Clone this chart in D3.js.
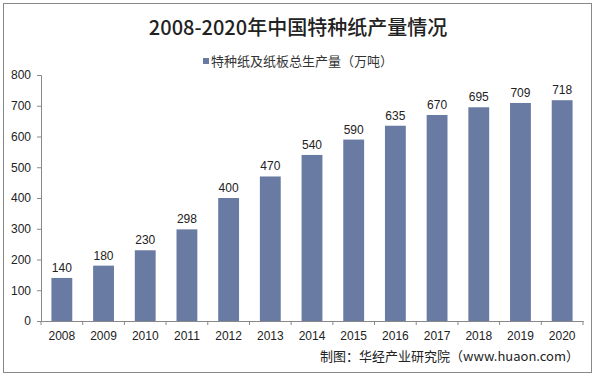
<!DOCTYPE html>
<html>
<head>
<meta charset="utf-8">
<script src="https://cdn.jsdelivr.net/npm/d3@7"></script>
<style>
  body { margin: 0; background: #fff; }
  text { font-family: "Liberation Sans", Arial, sans-serif; }
</style>
</head>
<body>
<svg id="svg" width="596" height="377"></svg>
<script>
const years = ['2008', '2009', '2010', '2011', '2012', '2013', '2014', '2015', '2016', '2017', '2018', '2019', '2020']
const output = [140, 180, 230, 298, 400, 470, 540, 590, 635, 670, 695, 709, 718]
const yTicks = [0, 100, 200, 300, 400, 500, 600, 700, 800]

const svg = d3.select('#svg')

svg.append('rect')
  .attr('x', 3.5).attr('y', 3.5)
  .attr('width', 588).attr('height', 369)
  .attr('fill', '#fff')
  .attr('stroke', '#888')

const xScale = d3.scaleBand()
  .domain(years)
  .range([41, 583])
  .paddingInner(0.5)
  .paddingOuter(0.25)

const yScale = d3.scaleLinear()
  .domain([0, 800])
  .range([321, 75])

const barColor = '#6a7ba3'

// title
svg.append('text')
  .attr('x', 298).attr('y', 35)
  .attr('text-anchor', 'middle')
  .style('font-family', '"Noto Sans CJK SC", sans-serif')
  .style('font-size', '20px')
  .style('font-weight', 500)
  .attr('fill', '#222')
  .text('2008-2020年中国特种纸产量情况')

// legend
svg.append('rect')
  .attr('x', 203).attr('y', 58)
  .attr('width', 6).attr('height', 6)
  .attr('fill', barColor)
svg.append('text')
  .attr('x', 211).attr('y', 66)
  .style('font-family', '"Noto Sans CJK SC", sans-serif')
  .style('font-size', '13px')
  .attr('fill', '#333')
  .text('特种纸及纸板总生产量（万吨）')

// bars
svg.selectAll('.bar')
  .data(output)
  .enter()
  .append('rect')
  .attr('class', 'bar')
  .attr('x', (d, i) => xScale(years[i]))
  .attr('y', d => yScale(d))
  .attr('width', xScale.bandwidth())
  .attr('height', d => yScale(0) - yScale(d))
  .attr('fill', barColor)

// value labels
svg.selectAll('.lbl')
  .data(output)
  .enter()
  .append('text')
  .attr('class', 'lbl')
  .attr('x', (d, i) => xScale(years[i]) + xScale.bandwidth() / 2)
  .attr('y', d => yScale(d) - 6)
  .attr('text-anchor', 'middle')
  .style('font-size', '12px')
  .attr('fill', '#222')
  .text(d => d)

// y axis
const yAxis = svg.append('g')
  .attr('transform', 'translate(41,0)')
  .call(d3.axisLeft(yScale).tickValues(yTicks).tickSize(4).tickPadding(6))
yAxis.select('.domain').attr('stroke', '#888')
yAxis.selectAll('line').attr('stroke', '#888')
yAxis.selectAll('text').style('font-size', '12px').attr('fill', '#222')

// x axis
const xAxis = svg.append('g')
  .attr('transform', 'translate(0,321)')
  .call(d3.axisBottom(xScale).tickSize(0).tickPadding(10))
xAxis.select('.domain').attr('stroke', '#888')
xAxis.selectAll('text').style('font-size', '12px').attr('fill', '#222')

// category separators
svg.selectAll('.sep')
  .data(years.concat(['end']))
  .enter()
  .append('line')
  .attr('class', 'sep')
  .attr('x1', (d, i) => 41 + i * xScale.step())
  .attr('x2', (d, i) => 41 + i * xScale.step())
  .attr('y1', 321).attr('y2', 325)
  .attr('stroke', '#888')

// source
svg.append('text')
  .attr('x', 579).attr('y', 361)
  .attr('text-anchor', 'end')
  .style('font-family', '"Noto Sans CJK SC", sans-serif')
  .style('font-size', '13px')
  .attr('fill', '#222')
  .text('制图：华经产业研究院（www.huaon.com）')
</script>
</body>
</html>
